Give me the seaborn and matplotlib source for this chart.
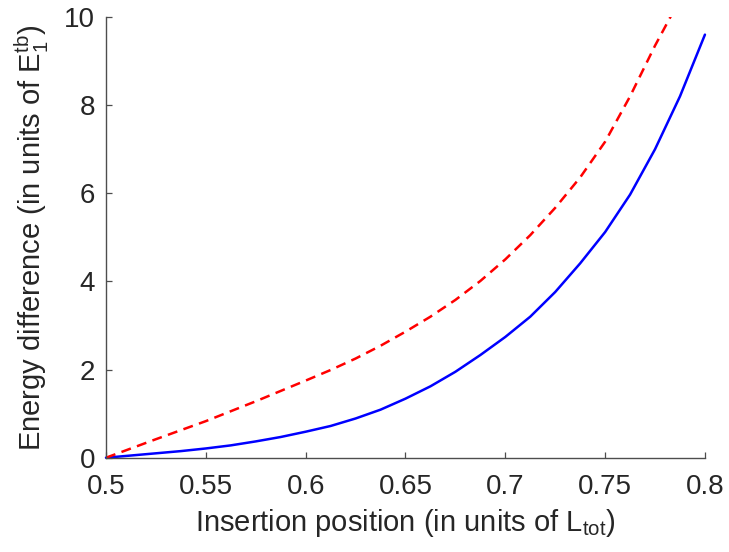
import numpy as np
import pandas as pd
import matplotlib
matplotlib.use("Agg")
import matplotlib.pyplot as plt
import seaborn as sns

# ---- data ----
x_blue = [0.5, 0.5125, 0.525, 0.5375, 0.55, 0.5625, 0.575, 0.5875, 0.6, 0.6125,
          0.625, 0.6375, 0.65, 0.6625, 0.675, 0.6875, 0.7, 0.7125, 0.725,
          0.7375, 0.75, 0.7625, 0.775, 0.7875, 0.8]
y_blue = [0.0, 0.05, 0.10, 0.15, 0.21, 0.28, 0.37, 0.47, 0.59, 0.72,
          0.89, 1.09, 1.34, 1.62, 1.95, 2.33, 2.74, 3.2, 3.76,
          4.41, 5.12, 5.97, 7.0, 8.2, 9.6]

x_red = [0.5, 0.525, 0.55, 0.575, 0.6, 0.6125, 0.625, 0.6375, 0.65, 0.6625,
         0.675, 0.6875, 0.7, 0.7125, 0.725, 0.7375, 0.75, 0.7625, 0.775,
         0.7833]
y_red = [0.0, 0.42, 0.83, 1.28, 1.75, 1.99, 2.25, 2.54, 2.86, 3.2,
         3.58, 4.01, 4.5, 5.05, 5.67, 6.36, 7.17, 8.2, 9.35,
         10.05]

x_ticks = [0.5, 0.55, 0.6, 0.65, 0.7, 0.75, 0.8]
x_tick_labels = ["0.5", "0.55", "0.6", "0.65", "0.7", "0.75", "0.8"]
y_ticks = [0, 2, 4, 6, 8, 10]
y_tick_labels = ["0", "2", "4", "6", "8", "10"]

x_label = r"Insertion position (in units of L$\mathregular{_{tot}}$)"
y_label = r"Energy difference (in units of E$\mathregular{_1^{tb}}$)"

# ---- style ----
sns.set_style("ticks")
plt.rcParams["font.family"] = ["Liberation Sans", "DejaVu Sans"]
plt.rcParams["mathtext.fontset"] = "custom"
plt.rcParams["mathtext.rm"] = "Liberation Sans"
plt.rcParams["mathtext.it"] = "Liberation Sans:italic"
plt.rcParams["mathtext.bf"] = "Liberation Sans:bold"

text_col = "#262626"
axis_col = "#4d4d4d"

fig = plt.figure(figsize=(7.29, 5.52), dpi=100)
ax = fig.add_axes([0.1454, 0.1708, 0.8216, 0.7984])

df_b = pd.DataFrame({"x": x_blue, "y": y_blue})
df_r = pd.DataFrame({"x": x_red, "y": y_red})

sns.lineplot(data=df_b, x="x", y="y", ax=ax, color="#0000ff", linewidth=1.8,
             estimator=None, sort=False)
sns.lineplot(data=df_r, x="x", y="y", ax=ax, color="#ff0000", linewidth=1.8,
             estimator=None, sort=False, linestyle="--")
ax.lines[-1].set_dashes([4.0, 2.6])
ax.lines[0].set_clip_on(False)

ax.set_xlim(0.5, 0.8)
ax.set_ylim(0, 10)
ax.set_xticks(x_ticks)
ax.set_xticklabels(x_tick_labels)
ax.set_yticks(y_ticks)
ax.set_yticklabels(y_tick_labels)

sns.despine(ax=ax)
for s in ["left", "bottom"]:
    ax.spines[s].set_color(axis_col)
    ax.spines[s].set_linewidth(1.0)

ax.tick_params(axis="both", direction="in", length=4.5, width=0.9,
               colors=axis_col, labelcolor=text_col, labelsize=20)
ax.tick_params(axis="x", pad=12)
ax.tick_params(axis="y", pad=8)

ax.set_xlabel(x_label, fontsize=21, color=text_col, labelpad=5)
ax.set_ylabel(y_label, fontsize=21, color=text_col, labelpad=9)

fig.savefig("out.png", dpi=100)
